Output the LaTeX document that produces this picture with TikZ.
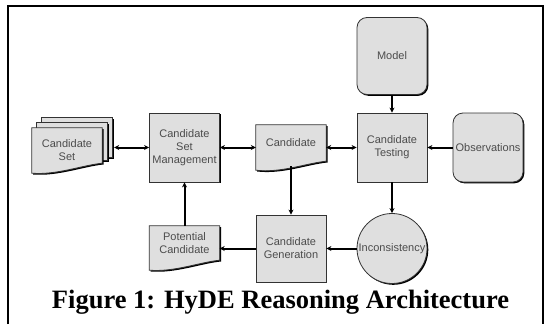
\documentclass[tikz,border=0pt]{standalone}
\usepackage{fontspec}
\setmainfont{Liberation Serif}
\setsansfont{Liberation Sans}
\usetikzlibrary{calc, arrows.meta, backgrounds, shapes, shadows}

\begin{document}
\begin{tikzpicture}[x=1pt, y=-1pt,
  lbl/.style={inner sep=0pt, align=center, text=black!70, font=\sffamily\fontsize{11}{13}\selectfont},
  shade/.style={drop shadow={shadow xshift=1.3pt, shadow yshift=-1.3pt, fill=black, opacity=1}},
  box/.style={lbl, draw=black!80, line width=0.8pt, fill=gray!25, shade, minimum width=70pt, minimum height=69pt},
  rbox/.style={box, rounded corners=10pt},
  ball/.style={lbl, draw=black!80, line width=0.8pt, fill=gray!25, shade, circle, minimum size=70pt},
  doc/.style={lbl, minimum width=70pt},
  docline/.style={draw=black!80, line width=0.8pt, fill=gray!25, shade},
  con/.style={line width=2pt, -{Stealth[length=5pt, width=5pt]}},
  bicon/.style={line width=2pt, {Stealth[length=5pt, width=5pt]}-{Stealth[length=5pt, width=5pt]}}]
  \useasboundingbox (0,0) rectangle (548,324);
  \draw[line width=2.2pt] (8,324) -- (8,6) -- (543,6) -- (543,324);

  \node[rbox, minimum height=77pt] (model) at (392,56) {Model};
  \node[box] (test) at (392,147.5) {Candidate\\Testing};
  \node[rbox] (obs) at (488,147.5) {Observations};
  \node[box] (csm) at (184.5,147.5) {Candidate\\Set\\Management};
  \node[doc, minimum height=36pt] (cand) at (291,143) {Candidate};
  \node[doc, minimum height=44pt] (cset) at (67,150) {Candidate\\Set};

  \node[ball] (incon) at (392,248.5) {Inconsistency};
  \node[box, minimum height=67pt] (gen) at (291,248.5) {Candidate\\Generation};
  \node[doc, minimum height=34pt] (pot) at (184.5,243) {Potential\\Candidate};

  \coordinate (csetedge) at ([xshift=12pt]cset.east);

  % document outlines behind the labels
  \begin{pgfonlayer}{background}
    \draw[docline] ([shift={(10,-10)}]cset.north west) rectangle ([shift={(10,-15)}]cset.south east);
    \draw[docline] ([shift={(5,-5)}]cset.north west) rectangle ([shift={(5,-12)}]cset.south east);
    \draw[docline] (cset.north west) -- (cset.north east) -- ([shift={(0,-9)}]cset.south east) .. controls ($(cset.south east)+(-20,-7)$) and ($(cset.south west)+(25,3)$) .. ($(cset.south west)+(0,1)$) -- cycle;
    \draw[docline] (cand.north west) -- (cand.north east) -- (cand.south east) .. controls ($(cand.south east)+(-20,2)$) and ($(cand.south west)+(25,12)$) .. ($(cand.south west)+(0,9)$) -- cycle;
    \draw[docline] (pot.north west) -- (pot.north east) -- (pot.south east) .. controls ($(pot.south east)+(-20,2)$) and ($(pot.south west)+(25,12)$) .. ($(pot.south west)+(0,10)$) -- cycle;
  \end{pgfonlayer}

  \draw[bicon] (csetedge |- csm.west) -- (csm.west);
  \draw[bicon] (csm.east) -- (csm.east -| cand.west);
  \draw[bicon] (test.west -| cand.east) -- (test.west);
  \draw[con] (obs.west) -- (test.east);
  \draw[con] (model.south) -- (test.north);
  \draw[con] (test.south) -- (incon.north);
  \draw[con, shorten <=5pt] (cand.south) -- (gen.north);
  \draw[con] (incon.west) -- (gen.east);
  \draw[con] (gen.west) -- (gen.west -| pot.east);
  \draw[con] (pot.north) -- (csm.south);

  \node[anchor=base, font=\bfseries\fontsize{26.5}{30}\selectfont] (caption) at (280.5,308) {Figure 1: HyDE Reasoning Architecture};
\end{tikzpicture}
\end{document}
